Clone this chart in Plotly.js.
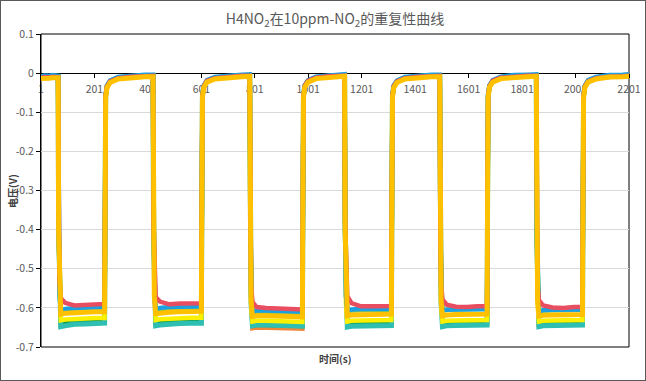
<!DOCTYPE html>
<html>
<head>
<meta charset="utf-8">
<script src="https://cdn.plot.ly/plotly-3.0.1.min.js"></script>
<style>
html,body{margin:0;padding:0;background:#fff;}
#chart{position:absolute;left:0;top:0;width:644px;height:379px;border:1px solid #595959;}
</style>
</head>
<body>
<div id="chart"></div>
<script>
// time (s)
const timeS = [
  1, 15, 30, 45, 65,
  67, 70, 75, 91, 126, 166, 206, 239,   241, 243, 248, 260, 290, 340, 390, 420,
  422, 425, 430, 446, 481, 521, 561, 601,   603, 605, 610, 622, 652, 702, 752, 782,
  784, 787, 792, 808, 843, 883, 923, 979,   981, 983, 988, 1000, 1030, 1080, 1130, 1137,
  1139, 1142, 1147, 1163, 1198, 1238, 1278, 1312,   1314, 1316, 1321, 1333, 1363, 1413, 1463, 1493,
  1495, 1498, 1503, 1519, 1554, 1594, 1634, 1670,   1672, 1674, 1679, 1691, 1721, 1771, 1821, 1854,
  1856, 1859, 1864, 1880, 1915, 1955, 1995, 2027,   2029, 2031, 2036, 2048, 2078, 2128, 2178, 2201
];

const seriesTeal = [
  -0.010, -0.008, -0.009, -0.008, -0.008,
  -0.40, -0.59, -0.648, -0.646, -0.642, -0.641, -0.640, -0.639,   -0.30, -0.057, -0.033, -0.020, -0.011, -0.008, -0.006, -0.006,
  -0.40, -0.59, -0.646, -0.644, -0.641, -0.640, -0.639, -0.639,   -0.30, -0.057, -0.033, -0.020, -0.012, -0.008, -0.007, -0.006,
  -0.40, -0.59, -0.646, -0.644, -0.644, -0.645, -0.646, -0.647,   -0.30, -0.057, -0.032, -0.020, -0.011, -0.008, -0.006, -0.006,
  -0.40, -0.59, -0.649, -0.647, -0.646, -0.646, -0.645, -0.645,   -0.30, -0.057, -0.033, -0.021, -0.012, -0.008, -0.006, -0.006,
  -0.40, -0.59, -0.648, -0.646, -0.645, -0.645, -0.644, -0.644,   -0.30, -0.057, -0.033, -0.020, -0.011, -0.008, -0.007, -0.006,
  -0.40, -0.59, -0.648, -0.646, -0.645, -0.645, -0.644, -0.644,   -0.30, -0.057, -0.033, -0.020, -0.011, -0.008, -0.006, -0.006
];
const seriesOrange = [
  -0.011, -0.009, -0.010, -0.009, -0.009,
  -0.40, -0.585, -0.643, -0.641, -0.639, -0.638, -0.637, -0.637,   -0.30, -0.059, -0.034, -0.021, -0.012, -0.009, -0.007, -0.006,
  -0.40, -0.585, -0.642, -0.640, -0.638, -0.637, -0.636, -0.636,   -0.30, -0.059, -0.034, -0.021, -0.012, -0.009, -0.007, -0.007,
  -0.40, -0.59, -0.652, -0.650, -0.650, -0.651, -0.652, -0.653,   -0.30, -0.059, -0.034, -0.021, -0.012, -0.008, -0.007, -0.006,
  -0.40, -0.59, -0.646, -0.644, -0.643, -0.643, -0.642, -0.642,   -0.30, -0.059, -0.034, -0.021, -0.012, -0.009, -0.007, -0.006,
  -0.40, -0.59, -0.645, -0.643, -0.642, -0.642, -0.641, -0.641,   -0.30, -0.059, -0.034, -0.021, -0.012, -0.009, -0.007, -0.006,
  -0.40, -0.59, -0.645, -0.643, -0.642, -0.642, -0.641, -0.641,   -0.30, -0.059, -0.034, -0.021, -0.012, -0.009, -0.007, -0.006
];
const seriesDarkGreen = [
  -0.012, -0.010, -0.011, -0.010, -0.010,
  -0.40, -0.585, -0.639, -0.637, -0.635, -0.634, -0.633, -0.633,   -0.30, -0.058, -0.034, -0.021, -0.012, -0.008, -0.007, -0.006,
  -0.40, -0.585, -0.638, -0.636, -0.634, -0.633, -0.632, -0.632,   -0.30, -0.058, -0.034, -0.021, -0.012, -0.008, -0.007, -0.006,
  -0.40, -0.59, -0.645, -0.643, -0.643, -0.644, -0.645, -0.646,   -0.30, -0.058, -0.034, -0.021, -0.012, -0.008, -0.007, -0.006,
  -0.40, -0.59, -0.642, -0.640, -0.639, -0.639, -0.638, -0.638,   -0.30, -0.058, -0.034, -0.021, -0.012, -0.008, -0.007, -0.006,
  -0.40, -0.59, -0.641, -0.639, -0.638, -0.638, -0.637, -0.637,   -0.30, -0.058, -0.034, -0.021, -0.012, -0.008, -0.007, -0.006,
  -0.40, -0.59, -0.642, -0.640, -0.639, -0.639, -0.638, -0.638,   -0.30, -0.058, -0.034, -0.021, -0.012, -0.008, -0.007, -0.006
];
const seriesYellow = [
  -0.013, -0.011, -0.012, -0.011, -0.011,
  -0.40, -0.58, -0.632, -0.630, -0.628, -0.627, -0.626, -0.626,   -0.30, -0.060, -0.035, -0.022, -0.013, -0.009, -0.008, -0.007,
  -0.40, -0.58, -0.631, -0.629, -0.627, -0.626, -0.625, -0.625,   -0.30, -0.060, -0.035, -0.022, -0.013, -0.009, -0.008, -0.007,
  -0.40, -0.59, -0.635, -0.633, -0.633, -0.634, -0.635, -0.636,   -0.30, -0.060, -0.035, -0.022, -0.013, -0.009, -0.008, -0.007,
  -0.40, -0.59, -0.635, -0.633, -0.632, -0.632, -0.631, -0.631,   -0.30, -0.060, -0.035, -0.022, -0.013, -0.009, -0.008, -0.007,
  -0.40, -0.59, -0.635, -0.633, -0.632, -0.632, -0.631, -0.631,   -0.30, -0.060, -0.035, -0.022, -0.013, -0.009, -0.008, -0.007,
  -0.40, -0.59, -0.635, -0.633, -0.632, -0.632, -0.631, -0.631,   -0.30, -0.060, -0.035, -0.022, -0.013, -0.009, -0.008, -0.007
];
const seriesLightGreen = [
  -0.011, -0.009, -0.010, -0.009, -0.009,
  -0.41, -0.565, -0.609, -0.607, -0.605, -0.604, -0.603, -0.603,   -0.30, -0.060, -0.034, -0.021, -0.012, -0.008, -0.006, -0.006,
  -0.41, -0.565, -0.607, -0.605, -0.603, -0.602, -0.601, -0.601,   -0.30, -0.060, -0.034, -0.020, -0.012, -0.008, -0.006, -0.005,
  -0.41, -0.57, -0.613, -0.611, -0.611, -0.612, -0.613, -0.614,   -0.30, -0.060, -0.033, -0.020, -0.011, -0.007, -0.006, -0.005,
  -0.41, -0.57, -0.609, -0.607, -0.606, -0.606, -0.605, -0.605,   -0.30, -0.060, -0.034, -0.021, -0.012, -0.008, -0.006, -0.006,
  -0.41, -0.57, -0.607, -0.605, -0.604, -0.604, -0.603, -0.603,   -0.30, -0.060, -0.033, -0.020, -0.011, -0.008, -0.006, -0.005,
  -0.41, -0.57, -0.609, -0.607, -0.606, -0.606, -0.605, -0.605,   -0.30, -0.060, -0.034, -0.020, -0.012, -0.007, -0.006, -0.005
];
const seriesBlue = [
  -0.008, -0.006, -0.007, -0.005, -0.007,
  -0.42, -0.565, -0.606, -0.603, -0.601, -0.600, -0.599, -0.599,   -0.31, -0.058, -0.032, -0.019, -0.010, -0.006, -0.004, -0.004,
  -0.42, -0.565, -0.603, -0.600, -0.598, -0.597, -0.596, -0.596,   -0.31, -0.058, -0.032, -0.018, -0.010, -0.006, -0.004, -0.003,
  -0.42, -0.57, -0.609, -0.607, -0.607, -0.608, -0.609, -0.610,   -0.31, -0.058, -0.031, -0.018, -0.009, -0.005, -0.003, -0.003,
  -0.42, -0.57, -0.606, -0.604, -0.603, -0.603, -0.602, -0.602,   -0.31, -0.058, -0.032, -0.019, -0.010, -0.006, -0.004, -0.004,
  -0.42, -0.57, -0.607, -0.605, -0.604, -0.604, -0.603, -0.603,   -0.31, -0.058, -0.031, -0.018, -0.009, -0.005, -0.004, -0.003,
  -0.42, -0.57, -0.608, -0.606, -0.605, -0.605, -0.604, -0.604,   -0.31, -0.058, -0.032, -0.018, -0.010, -0.005, -0.004, -0.003
];
const seriesRed = [
  -0.012, -0.010, -0.011, -0.009, -0.010,
  -0.38, -0.53, -0.575, -0.587, -0.594, -0.592, -0.591, -0.590,   -0.29, -0.055, -0.033, -0.021, -0.013, -0.009, -0.008, -0.007,
  -0.38, -0.53, -0.572, -0.584, -0.591, -0.589, -0.588, -0.588,   -0.29, -0.055, -0.033, -0.020, -0.013, -0.009, -0.007, -0.007,
  -0.38, -0.54, -0.585, -0.598, -0.600, -0.602, -0.603, -0.604,   -0.29, -0.055, -0.032, -0.020, -0.012, -0.008, -0.007, -0.007,
  -0.38, -0.53, -0.570, -0.588, -0.596, -0.596, -0.595, -0.595,   -0.29, -0.055, -0.033, -0.021, -0.013, -0.009, -0.008, -0.007,
  -0.38, -0.54, -0.578, -0.592, -0.597, -0.598, -0.596, -0.596,   -0.29, -0.055, -0.033, -0.020, -0.012, -0.009, -0.007, -0.007,
  -0.38, -0.54, -0.580, -0.594, -0.599, -0.600, -0.598, -0.598,   -0.29, -0.055, -0.033, -0.021, -0.013, -0.009, -0.008, -0.007
];
const seriesGold = [
  -0.014, -0.012, -0.013, -0.012, -0.012,
  -0.40, -0.57, -0.616, -0.614, -0.612, -0.611, -0.610, -0.610,   -0.30, -0.062, -0.037, -0.024, -0.015, -0.011, -0.009, -0.009,
  -0.40, -0.57, -0.615, -0.613, -0.611, -0.610, -0.609, -0.609,   -0.30, -0.062, -0.037, -0.023, -0.015, -0.011, -0.009, -0.008,
  -0.40, -0.58, -0.622, -0.620, -0.620, -0.621, -0.622, -0.623,   -0.30, -0.062, -0.036, -0.023, -0.014, -0.010, -0.009, -0.008,
  -0.40, -0.58, -0.620, -0.618, -0.617, -0.617, -0.616, -0.616,   -0.30, -0.062, -0.037, -0.024, -0.015, -0.011, -0.009, -0.009,
  -0.40, -0.58, -0.620, -0.618, -0.617, -0.617, -0.616, -0.616,   -0.30, -0.062, -0.036, -0.023, -0.014, -0.010, -0.009, -0.008,
  -0.40, -0.58, -0.621, -0.619, -0.618, -0.618, -0.617, -0.617,   -0.30, -0.062, -0.037, -0.023, -0.015, -0.010, -0.009, -0.008
];

const xTickVals = [1, 201, 401, 601, 801, 1001, 1201, 1401, 1601, 1801, 2001, 2201];
const xTickText = ['1', '201', '401', '601', '801', '1001', '1201', '1401', '1601', '1801', '2001', '2201'];
const yTickVals = [0.1, 0, -0.1, -0.2, -0.3, -0.4, -0.5, -0.6, -0.7];
const yTickText = ['0.1', '0', '-0.1', '-0.2', '-0.3', '-0.4', '-0.5', '-0.6', '-0.7'];

const seriesList = [
  {y: seriesOrange, color: '#F0883A', w: 4.5},
  {y: seriesDarkGreen, color: '#10A050', w: 4.5},
  {y: seriesTeal, color: '#2FBFB2', w: 5},
  {y: seriesYellow, color: '#FAF000', w: 4.5},
  {y: seriesLightGreen, color: '#8CC152', w: 4.5},
  {y: seriesBlue, color: '#1BA1E2', w: 4.5},
  {y: seriesRed, color: '#E84E5F', w: 4.5},
  {y: seriesGold, color: '#FFC000', w: 5}
];

const traces = seriesList.map(s => ({
  type: 'scatter', mode: 'lines', x: timeS, y: s.y,
  line: {color: s.color, width: s.w}, hoverinfo: 'skip', showlegend: false
}));

const fontCN = '"Noto Sans CJK SC", "Microsoft YaHei", sans-serif';
const layout = {
  width: 644, height: 379,
  margin: {l: 40, r: 16, t: 33, b: 33},
  paper_bgcolor: '#ffffff', plot_bgcolor: '#ffffff',
  font: {family: fontCN, color: '#595959', size: 10},
  title: {text: 'H4NO<sub>2</sub>在10ppm-NO<sub>2</sub>的重复性曲线', x: 0.5, xref: 'paper', y: 0.9525, yanchor: 'middle',
          font: {family: fontCN, size: 14, color: '#595959'}},
  showlegend: false,
  xaxis: {
    range: [1, 2201], tickmode: 'array', tickvals: xTickVals, ticktext: xTickText,
    anchor: 'free', position: 0.875,
    showline: true, linecolor: '#000000', linewidth: 1,
    ticks: 'outside', ticklen: 4, tickcolor: '#000000', tickwidth: 1,
    ticklabelstandoff: 2,
    showgrid: false, zeroline: false, layer: 'below traces',
    tickfont: {family: fontCN, size: 10.5, color: '#595959'}
  },
  yaxis: {
    range: [-0.7, 0.1], tickmode: 'array', tickvals: yTickVals, ticktext: yTickText,
    showline: true, linecolor: '#000000', linewidth: 1,
    ticks: 'outside', ticklen: 4, tickcolor: '#000000', tickwidth: 1,
    showgrid: true, gridcolor: '#d9d9d9', gridwidth: 1, zeroline: false,
    tickfont: {family: fontCN, size: 10.5, color: '#595959'}
  },
  shapes: [
    {type: 'rect', xref: 'paper', yref: 'paper', x0: 0, x1: 1, y0: 0, y1: 1,
     line: {color: '#000000', width: 1}, layer: 'below'}
  ],
  annotations: [
    {text: '<b>时间(s)</b>', xref: 'paper', yref: 'paper', x: 0.5, y: 0, yanchor: 'top', yshift: -2,
     showarrow: false, font: {family: fontCN, size: 10, color: '#404040'}},
    {text: '<b>电压(V)</b>', xref: 'paper', yref: 'paper', x: -0.0485, y: 0.50, textangle: -90,
     xanchor: 'center', yanchor: 'middle', showarrow: false,
     font: {family: fontCN, size: 10, color: '#404040'}}
  ]
};

Plotly.newPlot('chart', traces, layout, {staticPlot: true, displayModeBar: false});
</script>
</body>
</html>
